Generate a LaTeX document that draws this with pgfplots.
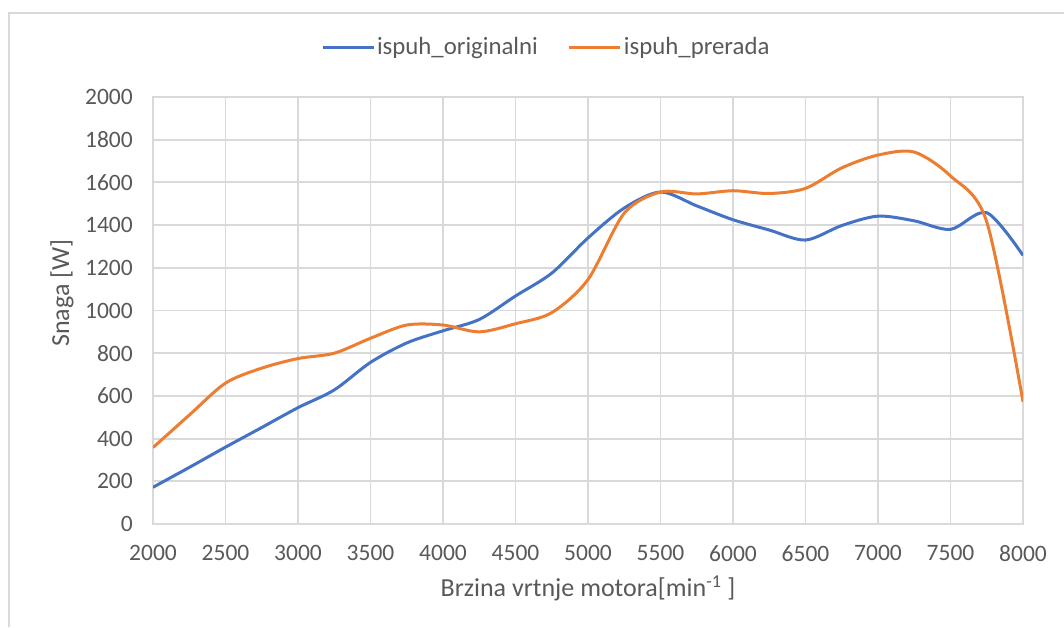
\documentclass[border=0pt]{standalone}
\usepackage{fontspec}
\setmainfont{Carlito}
\usepackage{pgfplots}
\pgfplotsset{compat=1.18}
\definecolor{xblue}{HTML}{4472C4}
\definecolor{xorange}{HTML}{ED7D31}
\definecolor{xgray}{HTML}{595959}
\definecolor{xgrid}{HTML}{D9D9D9}
\begin{document}
\begin{tikzpicture}[x=1pt,y=1pt]
\useasboundingbox (0,0) rectangle (1064,627);
\draw[xgrid, line width=1.8pt] (9,0) -- (9,614) -- (1064,614);
\begin{axis}[
  at={(153pt,103pt)}, anchor=south west,
  scale only axis, width=870pt, height=427pt,
  xmin=2000, xmax=8000, ymin=0, ymax=2000,
  xtick={2000,2500,...,8000}, ytick={0,200,...,2000},
  grid=major, major grid style={xgrid, line width=1.8pt},
  axis line style={xgrid, line width=1.8pt},
  tick style={draw=none},
  /pgf/number format/assume math mode=true,
  /pgf/number format/set thousands separator={},
  ticklabel style={font=\fontsize{23.5}{24}\selectfont, text=xgray, inner sep=0pt},
  yticklabel style={anchor=east, xshift=-20pt},
  xticklabel style={anchor=north, yshift=-21pt},
  xlabel={Brzina vrtnje motora[min\textsuperscript{-1} ]},
  ylabel={Snaga [W]},
  label style={font=\fontsize{26}{26}\selectfont, text=xgray},
  xlabel style={at={(axis description cs:0.5,-0.15)}, anchor=center},
  ylabel style={at={(axis description cs:-0.1046,0.541)}, anchor=center},
  legend columns=2,
  legend style={at={(axis description cs:0.452,1.117)}, anchor=center, draw=none, fill=none,
    font=\fontsize{24.8}{25}\selectfont, text=xgray,
    /tikz/every even column/.append style={column sep=28pt}},
  legend image code/.code={\draw[#1, line width=3pt] (0pt,0pt) -- (51pt,0pt);},
]
\addplot[xblue, line width=3pt, smooth] coordinates {
(2000,172) (2250,265) (2500,360) (2750,452) (3000,545) (3250,628) (3500,757)
(3750,848) (4000,905) (4250,958) (4500,1068) (4750,1175) (5000,1340) (5250,1480)
(5500,1555) (5750,1490) (6000,1425) (6250,1377) (6500,1330) (6750,1398) (7000,1442)
(7250,1420) (7500,1380) (7750,1458) (8000,1258)};
\addlegendentry{ispuh\_originalni}
\addplot[xorange, line width=3pt, smooth] coordinates {
(2000,358) (2250,510) (2500,660) (2750,730) (3000,775) (3250,800) (3500,870)
(3750,932) (4000,932) (4250,900) (4500,938) (4750,990) (5000,1145) (5250,1456)
(5500,1555) (5750,1546) (6000,1561) (6250,1548) (6500,1572) (6750,1668) (7000,1728)
(7250,1742) (7500,1630) (7750,1415) (8000,573)};
\addlegendentry{ispuh\_prerada}
\end{axis}
\end{tikzpicture}
\end{document}
